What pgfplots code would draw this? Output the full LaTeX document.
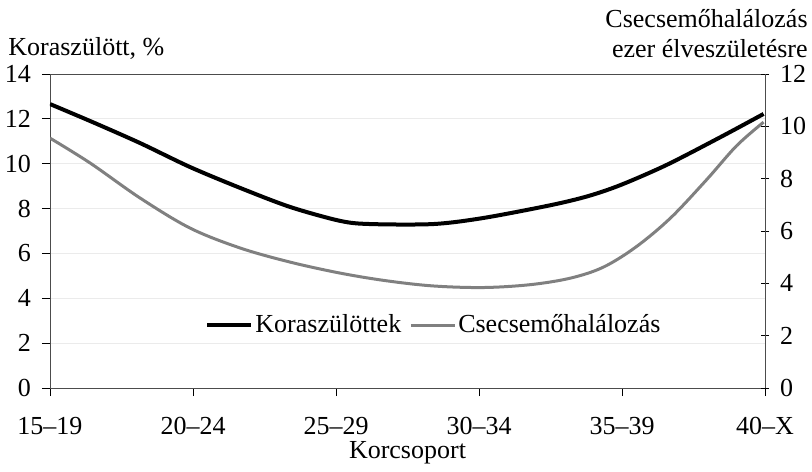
\documentclass[border=0pt]{standalone}
\usepackage{fontspec}
\setmainfont{Liberation Serif}
\usepackage{pgfplots}
\pgfplotsset{compat=1.18}

\begin{document}
\fontsize{13}{15}\selectfont
\begin{tikzpicture}
\pgfplotsset{
  every axis/.append style={
    scale only axis, width=357.5pt, height=157pt,
    xmin=0, xmax=5,
    font=\fontsize{13}{15}\selectfont,
    /pgf/number format/assume math mode=true,
    major tick length=4pt,
    tick style={black, thin},
  }
}
\begin{axis}[
  ymin=0, ymax=14, ytick={0,2,...,14},
  xtick={0,1,2,3,4,5},
  xticklabels={15--19,20--24,25--29,30--34,35--39,40--X},
  xtick pos=bottom, ytick pos=left,
  tick align=outside,
  axis line style={black!70, thin},
  ymajorgrids, grid style={black!8, thin},
  xticklabel style={anchor=base, yshift=-19pt},
  yticklabel style={anchor=east, xshift=-1pt},
]
  \coordinate (bl) at (rel axis cs:0,0);
  \coordinate (bm) at (rel axis cs:0.5,0);
  \coordinate (tl) at (rel axis cs:0,1);
  \coordinate (tr) at (rel axis cs:1,1);
  % Koraszülöttek (bal tengely)
  \addplot[black, line width=2pt, smooth, tension=0.5] coordinates {
    (0,12.66) (0.30,11.85) (0.63,10.92) (0.98,9.85) (1.33,8.92)
    (1.68,8.07) (2.03,7.45) (2.24,7.31) (2.68,7.31) (3.03,7.58)
    (3.50,8.15) (3.76,8.55) (3.99,9.05) (4.31,9.94) (4.69,11.19)
    (4.99,12.22)
  };
\end{axis}
\begin{axis}[
  ymin=0, ymax=12, ytick={0,2,...,12},
  axis x line=none, axis y line*=right,
  ytick pos=right, tick align=center,
  axis line style={black!70, thin},
  yticklabel style={anchor=west, xshift=1pt},
  legend style={draw=none, fill=none, at={(0.2168,0.2006)}, anchor=west,
    legend columns=2, inner sep=0pt,
    /tikz/every even column/.append style={column sep=3pt},
    nodes={inner sep=1pt}},
  legend image code/.code={\draw[#1] (0pt,0pt) -- (22pt,0pt);},
]
  \addlegendimage{black, line width=2pt}
  \addlegendentry{Koraszülöttek}
  % Csecsemőhalálozás (jobb tengely)
  \addplot[black!50, line width=1.5pt, smooth, tension=0.55] coordinates {
    (0,9.55) (0.28,8.60) (0.63,7.26) (0.98,6.11) (1.33,5.35)
    (1.68,4.81) (2.03,4.39) (2.35,4.10) (2.68,3.90) (3.03,3.84)
    (3.36,3.95) (3.64,4.20) (3.87,4.62) (4.10,5.40) (4.34,6.50)
    (4.59,7.95) (4.80,9.25) (4.99,10.16)
  };
  \addlegendentry{Csecsemőhalálozás}
\end{axis}
\node[anchor=base west, inner sep=0pt] at ([xshift=-21pt,yshift=9pt]tl) {Koraszülött, \%};
\node[anchor=base east, inner sep=0pt] at ([xshift=21.5pt,yshift=23pt]tr) {Csecsemőhalálozás};
\node[anchor=base east, inner sep=0pt] at ([xshift=21.5pt,yshift=8pt]tr) {ezer élveszületésre};
\node[anchor=base, inner sep=0pt] at ([yshift=-35pt]bm) {Korcsoport};
\pgfresetboundingbox
\path[use as bounding box] ([xshift=-25pt,yshift=-41.5pt]bl) rectangle ([xshift=23.5pt,yshift=37pt]tr);
\end{tikzpicture}
\end{document}
